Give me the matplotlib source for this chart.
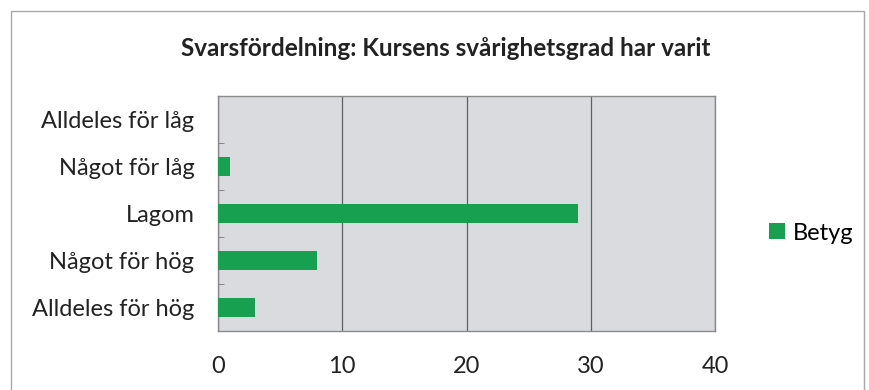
import matplotlib.pyplot as plt
from matplotlib.patches import Rectangle

# svarsfördelning, nedifrån och upp
categories = ['Alldeles för hög', 'Något för hög', 'Lagom', 'Något för låg', 'Alldeles för låg']
betyg = [3, 8, 29, 1, 0]
xticks = [0, 10, 20, 30, 40]

plt.rcParams['font.family'] = ['Lato', 'DejaVu Sans']

fig = plt.figure(figsize=(8.69, 3.9), dpi=100)
fig.patches.append(Rectangle((11 / 869, -0.1), (864 - 11) / 869, 1.1 - 11 / 390,
                             transform=fig.transFigure, fill=False,
                             edgecolor='#a8a8a8', linewidth=1.0))

ax = fig.add_axes([218 / 869, 59 / 390, 497 / 869, 235 / 390])
ax.set_facecolor('#dadbdf')
pos = range(len(categories))
ax.barh(pos, betyg, height=0.4, color='#16a04f', label='Betyg', zorder=3)

ax.set_xlim(0, 40)
ax.set_ylim(-0.5, len(categories) - 0.5)
ax.set_xticks(xticks)
ax.set_yticks(list(pos))
ax.set_yticklabels(categories)
ax.set_yticks([p + 0.5 for p in range(len(categories) - 1)], minor=True)
ax.tick_params(axis='x', length=0, pad=18, labelsize=17, labelcolor='#222222')
ax.tick_params(axis='y', which='major', length=0, pad=17, labelsize=17, labelcolor='#222222')
ax.tick_params(axis='y', which='minor', direction='in', length=4, color='#777777')
ax.grid(axis='x', color='#606060', linewidth=0.9, zorder=1)
for s in ax.spines.values():
    s.set_color('#8a8a8a')
    s.set_linewidth(1.0)

fig.text(446 / 869, 1 - 48 / 390, 'Svarsfördelning: Kursens svårighetsgrad har varit',
         ha='center', va='center', fontsize=17.5, fontweight='bold', color='#222222')

ax.legend(loc='center left', bbox_to_anchor=(760 / 869, 1 - 233 / 390),
          bbox_transform=fig.transFigure, frameon=False, fontsize=17,
          handlelength=0.65, handleheight=0.65, handletextpad=0.35, borderaxespad=0)

fig.savefig('out.png', dpi=100)
